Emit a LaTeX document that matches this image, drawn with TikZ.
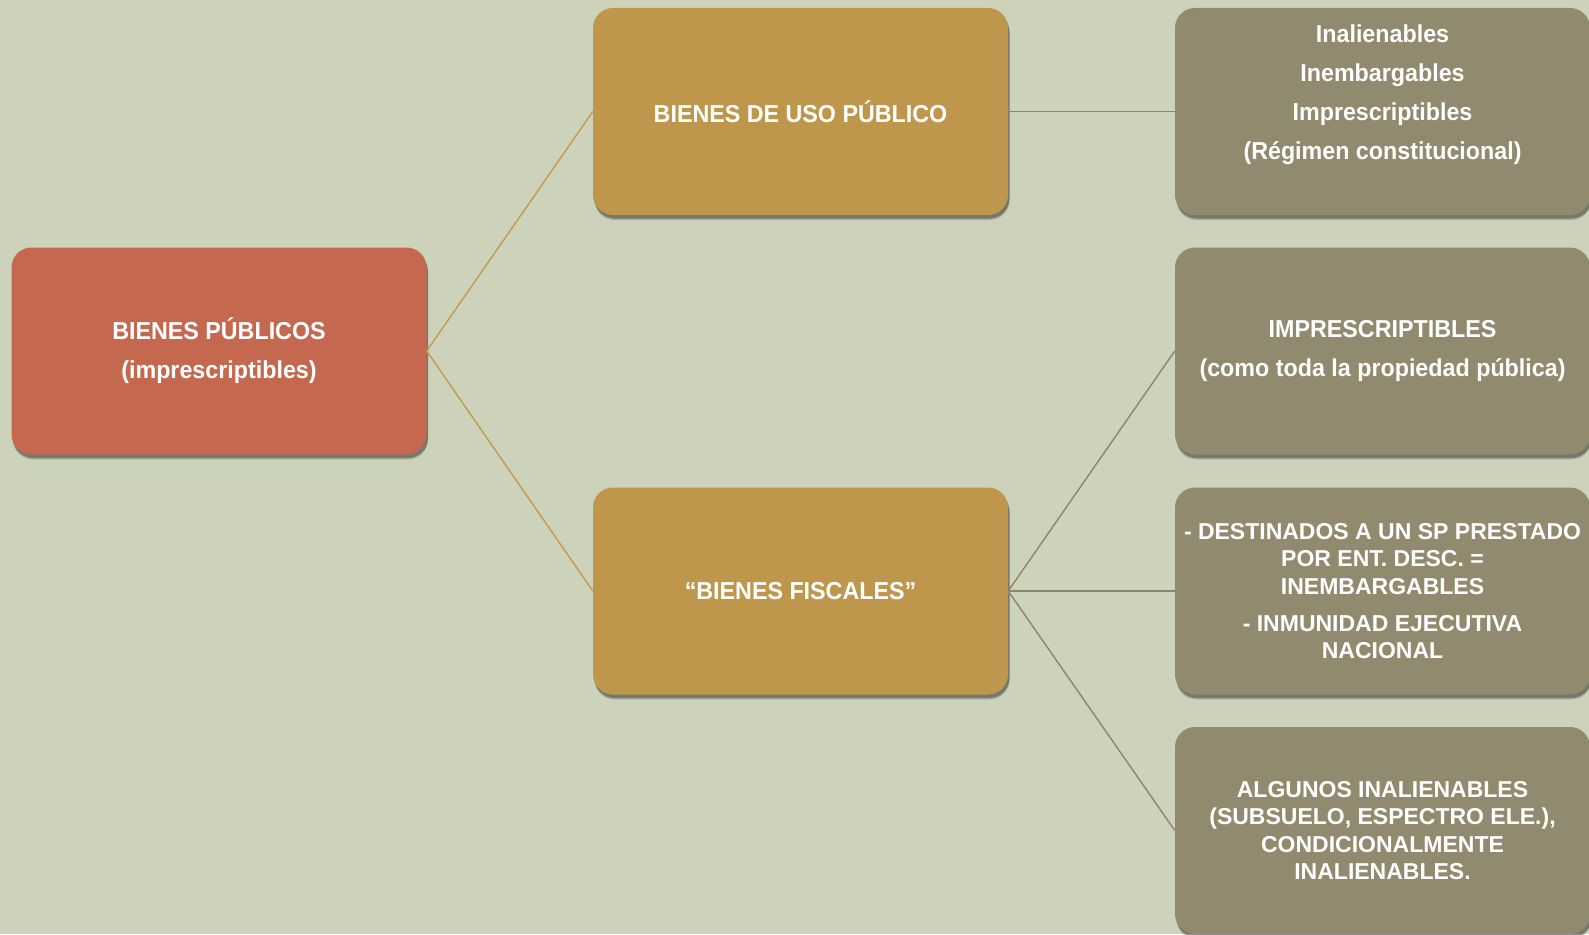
\documentclass[tikz,border=0pt]{standalone}
\usepackage{fontspec}
\setmainfont{Liberation Sans}
\newfontfamily\hfont[FakeStretch=0.95]{Liberation Sans}
\newfontfamily\nfont[FakeStretch=1.0]{Liberation Sans}
\usetikzlibrary{shadows}
\definecolor{bgc}{HTML}{CDD3BA}
\definecolor{redc}{HTML}{C4694F}
\definecolor{goldc}{HTML}{BF974C}
\definecolor{olivec}{HTML}{918A6E}
\definecolor{goldline}{HTML}{C49A4E}
\definecolor{oliveline}{HTML}{8C8569}
\tikzset{
  box/.style={rounded corners=20pt, minimum width=415pt, minimum height=207pt,
    text=white, align=center, inner sep=2pt,
    drop shadow={shadow xshift=1.5pt, shadow yshift=-5pt, fill=black, opacity=0.18},
    drop shadow={shadow xshift=1.5pt, shadow yshift=-3.5pt, fill=black, opacity=0.3}},
  big/.style={font=\hfont\bfseries\fontsize{24.5}{39}\selectfont},
  small/.style={font=\nfont\bfseries\fontsize{23}{27.5}\selectfont},
  label/.style={text=white, align=center, inner sep=0pt},
  redbox/.style={box, big, fill=redc},
  goldbox/.style={box, big, fill=goldc},
  olivebox/.style={box, fill=olivec},
  gline/.style={draw=goldline, line width=1.4pt},
  oline/.style={draw=oliveline, line width=1.4pt}
}
\begin{document}
\begin{tikzpicture}[x=1pt,y=-1pt]
\useasboundingbox (0,0) rectangle (1589,934);
\fill[bgc] (0,0) rectangle (1589,934);
\node[redbox] (bp) at (219,351) {BIENES PÚBLICOS\\(imprescriptibles)};
\node[goldbox] (uso) at (800.5,111.5) {BIENES DE USO PÚBLICO};
\node[goldbox] (fis) at (800.5,591) {“BIENES FISCALES”};
\node[olivebox] (r1) at (1382.5,111.5) {};
\node[label, big] (r1t) at ([yshift=16.5pt]r1.center) {Inalienables\\Inembargables\\Imprescriptibles\\(Régimen constitucional)};
\node[olivebox, big] (r2) at (1382.5,351) {IMPRESCRIPTIBLES\\(como toda la propiedad pública)};
\node[olivebox, small] (r3) at (1382.5,591) {- DESTINADOS A UN SP PRESTADO\\POR ENT. DESC. =\\INEMBARGABLES\\[9.5pt]- INMUNIDAD EJECUTIVA\\NACIONAL};
\node[olivebox, small] (r4) at (1382.5,830.5) {ALGUNOS INALIENABLES\\(SUBSUELO, ESPECTRO ELE.),\\CONDICIONALMENTE\\INALIENABLES.};
\draw[gline] (bp.east) -- (uso.west);
\draw[gline] (bp.east) -- (fis.west);
\draw[oline] (uso.east) -- (r1.west);
\draw[oline] (fis.east) -- (r2.west);
\draw[oline] (fis.east) -- (r3.west);
\draw[oline] (fis.east) -- (r4.west);
\end{tikzpicture}
\end{document}
